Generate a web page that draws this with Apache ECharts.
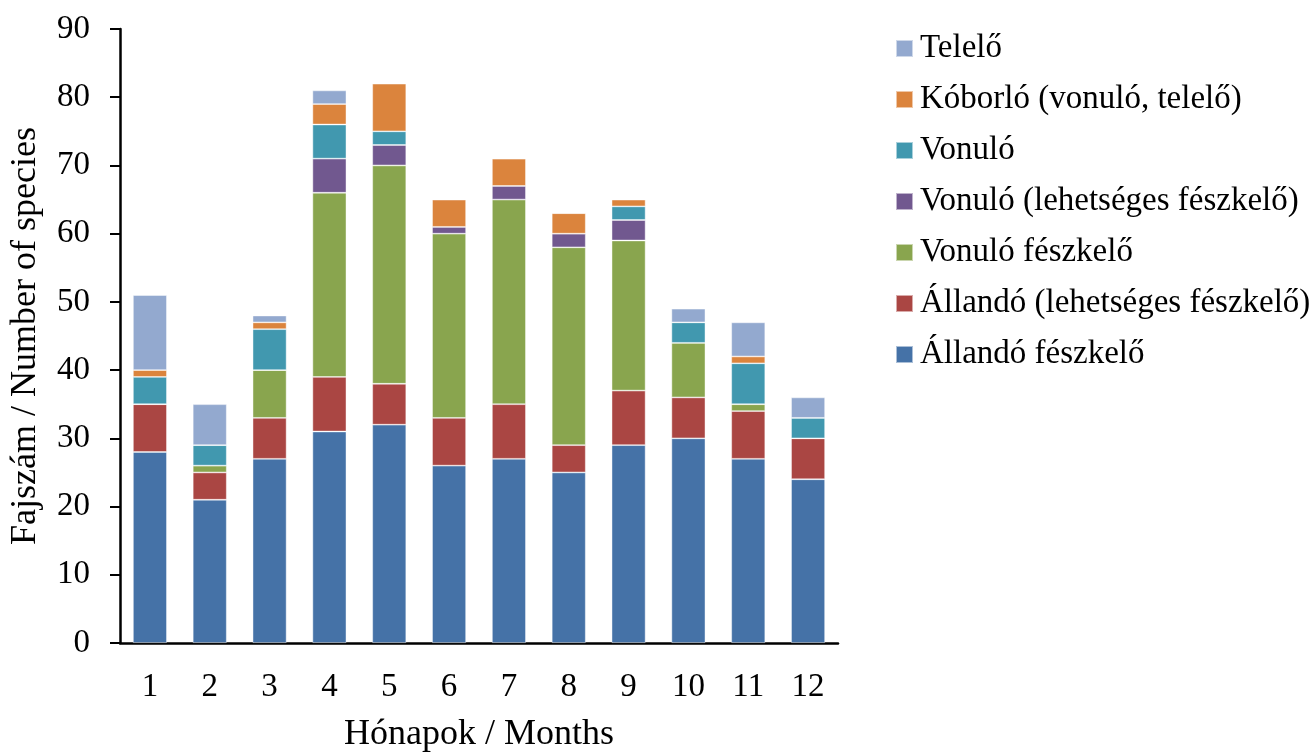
<!DOCTYPE html>
<html>
<head>
<meta charset="utf-8">
<script src="https://cdn.jsdelivr.net/npm/echarts@6/dist/echarts.min.js"></script>
<style>
  html, body { margin: 0; padding: 0; background: #fff; }
  #chart { width: 1313px; height: 753px; }
</style>
</head>
<body>
<div id="chart"></div>
<script>
// Months on the category axis
const months = ['1', '2', '3', '4', '5', '6', '7', '8', '9', '10', '11', '12'];

// Number of species per status group, stacked per month
const allandoFeszkelo     = [28, 21, 27, 31, 32, 26, 27, 25, 29, 30, 27, 24];
const allandoLehetseges   = [7, 4, 6, 8, 6, 7, 8, 4, 8, 6, 7, 6];
const vonuloFeszkelo      = [0, 1, 7, 27, 32, 27, 30, 29, 22, 8, 1, 0];
const vonuloLehetseges    = [0, 0, 0, 5, 3, 1, 2, 2, 3, 0, 0, 0];
const vonulo              = [4, 3, 6, 5, 2, 0, 0, 0, 2, 3, 6, 3];
const koborlo             = [1, 0, 1, 3, 7, 4, 4, 3, 1, 0, 1, 0];
const telelo              = [11, 6, 1, 2, 0, 0, 0, 0, 0, 2, 5, 3];

const yTicks = [0, 10, 20, 30, 40, 50, 60, 70, 80, 90];

const seriesDefs = [
  { name: 'Állandó fészkelő', data: allandoFeszkelo, color: '#4572A7' },
  { name: 'Állandó (lehetséges fészkelő)', data: allandoLehetseges, color: '#AA4643' },
  { name: 'Vonuló fészkelő', data: vonuloFeszkelo, color: '#89A54E' },
  { name: 'Vonuló (lehetséges fészkelő)', data: vonuloLehetseges, color: '#71588F' },
  { name: 'Vonuló', data: vonulo, color: '#4198AF' },
  { name: 'Kóborló (vonuló, telelő)', data: koborlo, color: '#DB843D' },
  { name: 'Telelő', data: telelo, color: '#93A9CF' }
];

const font = '"Liberation Serif", "Times New Roman", serif';
const fs = 33;      // tick labels and legend
const titleFs = 36; // axis titles

const chart = echarts.init(document.getElementById('chart'), null, { renderer: 'canvas' });

chart.setOption({
  animation: false,
  backgroundColor: '#fff',
  textStyle: { fontFamily: font, color: '#000' },
  grid: { left: 120, top: 29, width: 718, bottom: 110, containLabel: false, outerBoundsMode: 'none' },
  legend: {
    orient: 'vertical',
    left: 890,
    top: 27,
    padding: 5,
    itemWidth: 17,
    itemHeight: 17,
    itemGap: 18,
    icon: 'rect',
    textStyle: { fontFamily: font, fontSize: fs, lineHeight: 33, color: '#000', padding: [0, 0, 0, 2] },
    data: seriesDefs.map(s => s.name).reverse()
  },
  xAxis: {
    type: 'category',
    data: months,
    name: 'Hónapok / Months',
    nameLocation: 'middle',
    nameGap: 74,
    nameTextStyle: { fontFamily: font, fontSize: titleFs, color: '#000' },
    axisLine: { show: true, lineStyle: { color: '#000', width: 2.5 } },
    axisTick: { show: false },
    axisLabel: { fontFamily: font, fontSize: fs, color: '#000', margin: 28 }
  },
  yAxis: {
    type: 'value',
    min: yTicks[0],
    max: yTicks[yTicks.length - 1],
    interval: 10,
    name: 'Fajszám / Number of species',
    nameLocation: 'middle',
    nameGap: 76,
    nameTextStyle: { fontFamily: font, fontSize: titleFs, color: '#000' },
    axisLine: { show: true, lineStyle: { color: '#000', width: 2.5 } },
    axisTick: { show: true, inside: false, length: 10, lineStyle: { color: '#000', width: 2 } },
    axisLabel: { fontFamily: font, fontSize: fs, color: '#000', margin: 30 },
    splitLine: { show: false }
  },
  series: seriesDefs.map(s => ({
    name: s.name,
    type: 'bar',
    stack: 'total',
    barWidth: 34,
    data: s.data,
    itemStyle: { color: s.color, borderColor: 'rgba(255,255,255,0.55)', borderWidth: 0.8 },
    emphasis: { disabled: true }
  }))
});
</script>
</body>
</html>
